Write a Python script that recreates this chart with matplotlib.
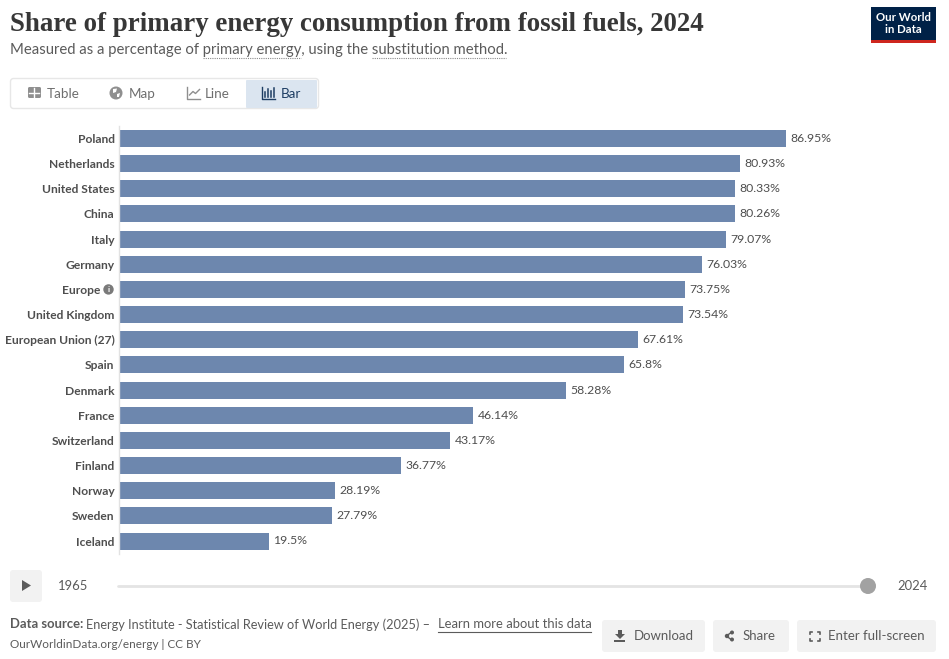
import matplotlib
matplotlib.use("Agg")
import matplotlib.pyplot as plt
from matplotlib.patches import FancyBboxPatch, Rectangle, Circle, Polygon

# ---------- data ----------
entities = ["Poland", "Netherlands", "United States", "China", "Italy", "Germany",
            "Europe", "United Kingdom", "European Union (27)", "Spain", "Denmark",
            "France", "Switzerland", "Finland", "Norway", "Sweden", "Iceland"]
shares = [86.95, 80.93, 80.33, 80.26, 79.07, 76.03, 73.75, 73.54, 67.61, 65.8,
          58.28, 46.14, 43.17, 36.77, 28.19, 27.79, 19.5]
tabs = ["Table", "Map", "Line", "Bar"]
actions = ["Download", "Share", "Enter full-screen"]
start_year = "1965"
end_year = "2024"

W, H = 949, 659
DPI = 100
def px(s):
    return s * 72 / DPI

plt.rcParams["font.family"] = ["Lato", "DejaVu Sans"]
fig = plt.figure(figsize=(W / DPI, H / DPI), dpi=DPI, facecolor="white")

# overlay in pixel coordinates for the page furniture
ov = fig.add_axes([0, 0, 1, 1], zorder=0)
ov.set_xlim(0, W); ov.set_ylim(H, 0); ov.axis("off")

GREY = "#5b5b5b"
DARK = "#4e4e4e"

def rbox(x, y, w, h, fc, ec="none", r=3, lw=1, ax=ov, z=1):
    ax.add_patch(FancyBboxPatch((x + r, y + r), w - 2 * r, h - 2 * r,
                                boxstyle=f"round,pad={r}", fc=fc, ec=ec, lw=lw, zorder=z))

# title block
ov.text(10, 24.5, "Share of primary energy consumption from fossil fuels, 2024",
        family=["Liberation Serif", "DejaVu Serif"], weight="bold", fontsize=px(26.85),
        color="#373737", va="center", ha="left")
ov.text(10, 50, "Measured as a percentage of primary energy, using the substitution method.",
        fontsize=px(14.87), color=GREY, va="center", ha="left")
for x0, x1 in [(203, 301), (372, 506)]:
    ov.plot([x0, x1], [57.5, 57.5], color="#8a8a8a", lw=0.8, ls=(0, (1, 1)))

# logo
ov.add_patch(Rectangle((871, 7), 65, 36, fc="#002147", ec="none"))
ov.add_patch(Rectangle((871, 40), 65, 3, fc="#ce261e", ec="none"))
ov.text(903.5, 17.5, "Our World", color="white", weight="bold", fontsize=px(11.4), ha="center", va="center")
ov.text(903.5, 29.5, "in Data", color="white", weight="bold", fontsize=px(11.4), ha="center", va="center")

# tab bar
rbox(10.5, 78.5, 308, 30, "white", "#e7e7e7")
rbox(246, 80, 71, 28, "#dbe5f0", r=1)
tab_x = [47, 129, 205, 281]
for lab, x in zip(tabs, tab_x):
    ov.text(x, 93.5, lab, fontsize=px(13.5), ha="left", va="center",
            color="#1d3d63" if lab == "Bar" else "#6e6e6e")
ic = "#8f8f8f"
# table icon
rbox(28, 87, 13, 11, ic, r=1.5)
ov.plot([29.5, 39.5], [92.5, 92.5], color="white", lw=1)
ov.plot([34.5, 34.5], [88, 97], color="white", lw=1)
# map icon
ov.add_patch(Circle((116, 93), 6.5, fc=ic, ec="none"))
ov.add_patch(Polygon([[113, 89], [117, 88.5], [116, 92], [113, 93]], fc="white", ec="none"))
ov.add_patch(Polygon([[117, 94], [120, 93], [119, 97], [117, 97]], fc="white", ec="none"))
# line icon
ov.plot([187.5, 187.5, 200], [87, 98.5, 98.5], color=ic, lw=1)
ov.plot([189.5, 193, 195.5, 199.5], [95, 91.5, 93.5, 89.5], color=ic, lw=1)
# bar icon
navy = "#1d3d63"
ov.plot([262.5, 262.5, 275], [87, 98.5, 98.5], color=navy, lw=1)
for x, top in zip([265.5, 268.5, 271.5, 274], [92, 89, 91, 88]):
    ov.plot([x, x], [top, 96.5], color=navy, lw=1.1)

# ---------- bars ----------
LEFT, RIGHT = 119, 900
TOP, BOT = 126, 554
SCALE = (786 - 119) / 86.95
STEP = (541 - 138.5) / 16
ax = fig.add_axes([LEFT / W, 1 - BOT / H, (RIGHT - LEFT) / W, (BOT - TOP) / H], zorder=2)
ax.patch.set_alpha(0)
ax.set_xlim(0, (RIGHT - LEFT) / SCALE)
ax.set_ylim((BOT - 138.5) / STEP, (TOP - 138.5) / STEP)
pos = list(range(len(entities)))
ax.barh(pos, shares, height=17 / STEP, color="#6d87ae", linewidth=0)
for s in ("top", "right", "bottom"):
    ax.spines[s].set_visible(False)
ax.spines["left"].set_color("#e2e2e2")
ax.spines["left"].set_linewidth(1)
ax.set_xticks([])
ax.set_yticks(pos)
ax.set_yticklabels(entities, fontsize=px(12.05), color=DARK, fontweight="bold")
ax.tick_params(axis="y", length=0, pad=3.2)
# Europe has an info marker between its label and the axis
europe_i = entities.index("Europe")
ax.get_yticklabels()[europe_i].set_x(-14 / ((RIGHT - LEFT)))
for y, v in zip(pos, shares):
    ax.annotate(f"{v:g}%", (v, y), xytext=(4.5, 0), textcoords="offset pixels",
                fontsize=px(12.3), color=DARK, va="center", ha="left")
# info marker
iy = 138.5 + europe_i * STEP
ov.add_patch(Circle((108.5, iy), 5.2, fc="#7a7a7a", ec="none", zorder=3))
ov.text(108.5, iy, "i", color="white", fontsize=px(8.5), weight="bold", ha="center", va="center", zorder=4)

# ---------- timeline ----------
rbox(10, 570, 32, 32, "#f2f2f2")
ov.add_patch(Polygon([[22, 580], [22, 591], [31, 585.5]], fc="#5b5b5b", ec="none", zorder=2))
ov.text(58, 585.5, start_year, fontsize=px(13), color=GREY, va="center", ha="left")
ov.text(897, 585.5, end_year, fontsize=px(13), color=GREY, va="center", ha="left")
ov.plot([118, 868], [585.5, 585.5], color="#e4e4e4", lw=2, solid_capstyle="round")
ov.add_patch(Circle((868, 586), 8, fc="#a2a2a2", ec="none", zorder=3))

# ---------- footer ----------
ov.text(10, 624.5, "Data source:", fontsize=px(13), weight="bold", color=GREY, va="center", ha="left")
ov.text(86, 624.5, "Energy Institute - Statistical Review of World Energy (2025) \u2013",
        fontsize=px(12.8), color=GREY, va="center", ha="left")
ov.text(438, 624.5, "Learn more about this data", fontsize=px(13), color=GREY, va="center", ha="left")
ov.plot([438, 591], [631.5, 631.5], color=GREY, lw=0.8)
ov.text(10, 645, "OurWorldinData.org/energy | CC BY", fontsize=px(11.8), color=GREY, va="center", ha="left")

# action buttons
boxes = [(602, 103), (713, 76), (797, 139)]
lab_x = [634, 743, 828]
for (x, w), lab, lx in zip(boxes, actions, lab_x):
    rbox(x, 620, w, 32, "#f2f2f2")
    ov.text(lx, 636, lab, fontsize=px(13.3), color=GREY, va="center", ha="left", zorder=3)
# download icon
ov.add_patch(Polygon([[618, 630], [622, 630], [622, 634], [625, 634], [620, 639], [615, 634], [618, 634]],
                     fc=GREY, ec="none", zorder=3))
ov.add_patch(Rectangle((614.5, 639.5), 11, 2, fc=GREY, ec="none", zorder=3))
# share icon
ov.plot([731, 726.5, 731], [632.5, 636, 639.5], color=GREY, lw=1, zorder=3)
for cx, cy, r in [(727, 636, 2.2), (732, 632.5, 2), (732, 639.5, 2)]:
    ov.add_patch(Circle((cx, cy), r, fc=GREY, ec="none", zorder=3))
# full-screen icon
for cx, cy, dx, dy in [(810, 631.5, 1, 1), (820, 631.5, -1, 1), (810, 641, 1, -1), (820, 641, -1, -1)]:
    ov.plot([cx + 2.2 * dx, cx, cx], [cy, cy, cy + 2.2 * dy], color=GREY, lw=1.2, zorder=3)

fig.savefig("out.png", dpi=DPI, facecolor="white")
